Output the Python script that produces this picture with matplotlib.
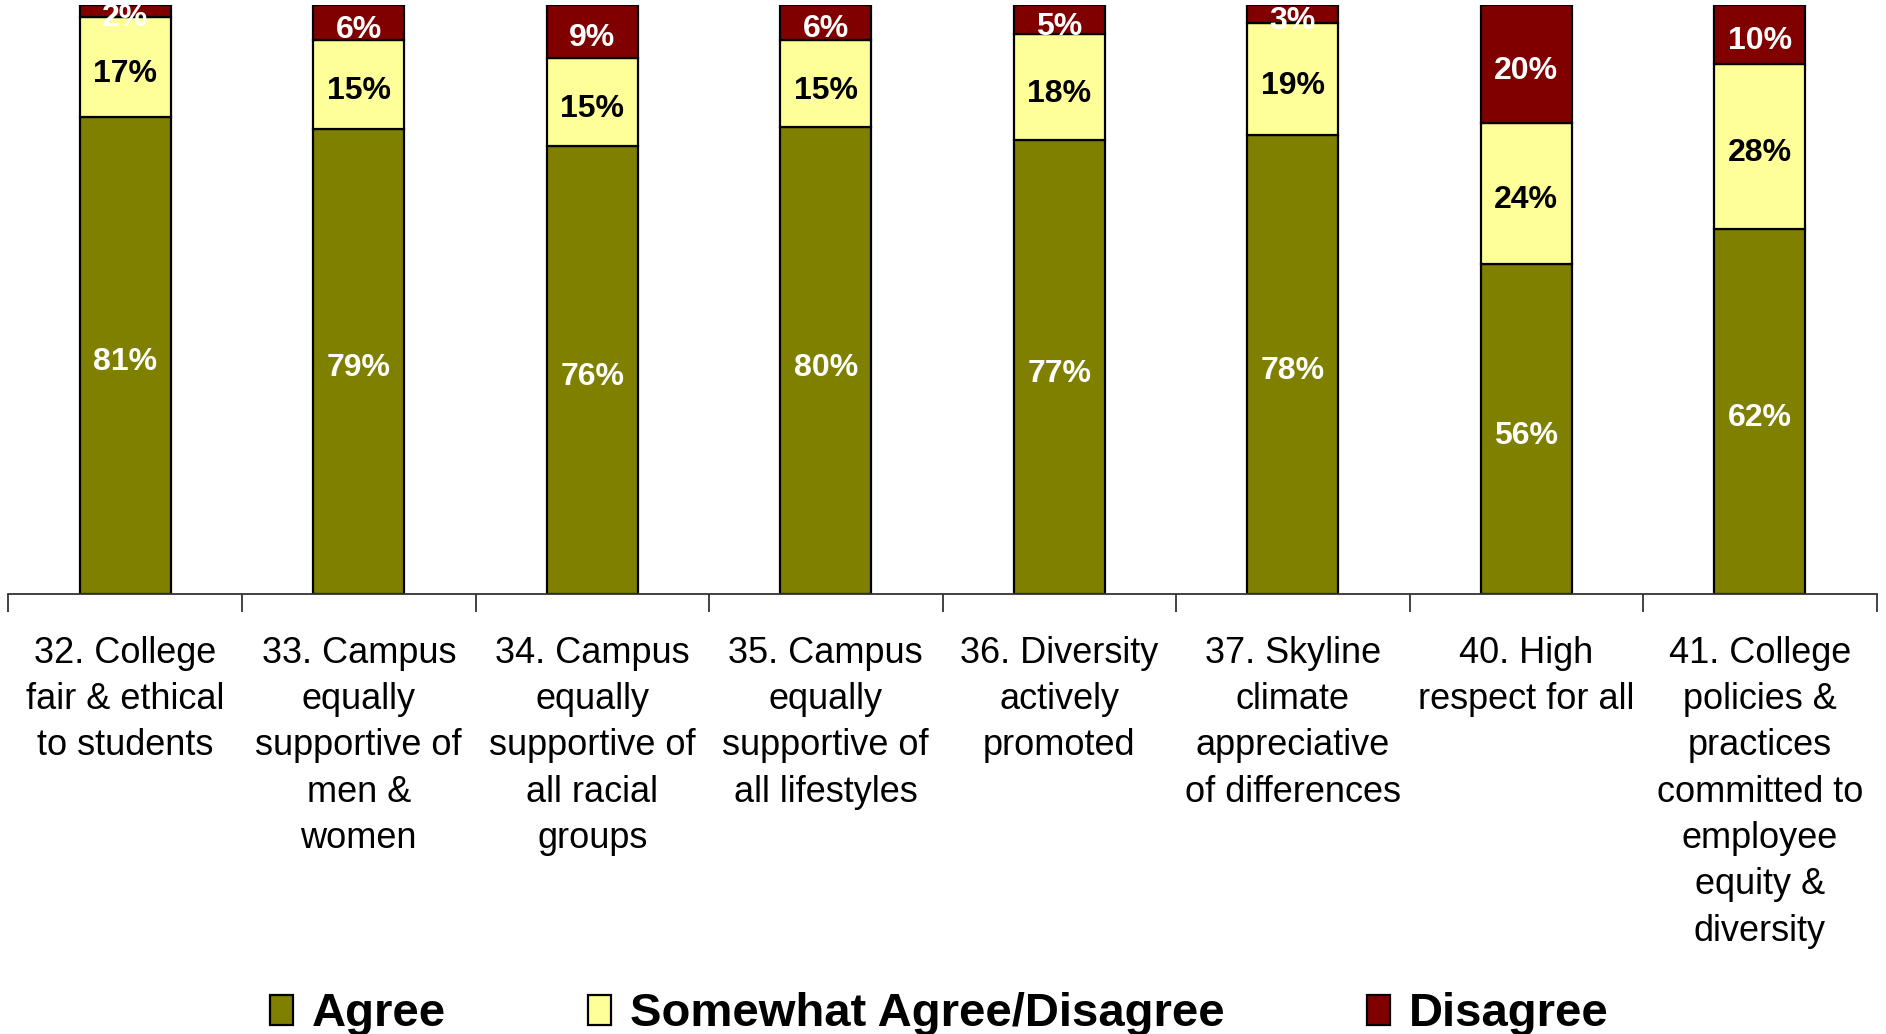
import matplotlib.pyplot as plt
import numpy as np

plt.rcParams['font.family'] = ['Liberation Sans', 'DejaVu Sans']

categories = [
    '32. College\nfair & ethical\nto students',
    '33. Campus\nequally\nsupportive of\nmen &\nwomen',
    '34. Campus\nequally\nsupportive of\nall racial\ngroups',
    '35. Campus\nequally\nsupportive of\nall lifestyles',
    '36. Diversity\nactively\npromoted',
    '37. Skyline\nclimate\nappreciative\nof differences',
    '40. High\nrespect for all',
    '41. College\npolicies &\npractices\ncommitted to\nemployee\nequity &\ndiversity',
]
agree = [81, 79, 76, 80, 77, 78, 56, 62]
somewhat = [17, 15, 15, 15, 18, 19, 24, 28]
disagree = [2, 6, 9, 6, 5, 3, 20, 10]

series_names = ['Agree', 'Somewhat Agree/Disagree', 'Disagree']
colors = ['#808000', '#FFFF99', '#800000']
label_colors = ['white', 'black', 'white']

# 100% stacked, like the original spreadsheet chart
data = np.array([agree, somewhat, disagree], dtype=float)
shares = data / data.sum(axis=0) * 100

fig = plt.figure(figsize=(18.86, 10.34), dpi=100)
ax = fig.add_axes([0.0045, 0.4255, 0.9905, 0.5697])

x = np.arange(len(categories))
bottom = np.zeros(len(categories))
handles = []
for vals, share, name, col, lcol in zip(data, shares, series_names, colors, label_colors):
    bars = ax.bar(x, share, bottom=bottom, width=0.39, color=col,
                  edgecolor='black', linewidth=1.6, label=name)
    handles.append(bars)
    for xi, b, s, v in zip(x, bottom, share, vals):
        ax.annotate(f'{int(v)}%', xy=(xi, b + s / 2), xytext=(0, -5),
                    textcoords='offset points', ha='center', va='center',
                    fontsize=23, fontweight='bold', color=lcol,
                    annotation_clip=False)
    bottom += share

ax.set_xlim(-0.5, len(categories) - 0.5)
ax.set_ylim(0, 100)

for side in ['left', 'right', 'top']:
    ax.spines[side].set_visible(False)
ax.spines['bottom'].set_color('#333333')
ax.spines['bottom'].set_linewidth(1.3)
ax.set_yticks([])

# boundary ticks without labels, category names at the centres
ax.set_xticks(np.arange(len(categories) + 1) - 0.5)
ax.set_xticklabels([])
ax.tick_params(axis='x', which='major', length=13, width=1.3, color='#333333')
ax.set_xticks(x, minor=True)
ax.set_xticklabels(categories, minor=True, fontsize=26, linespacing=1.42)
ax.tick_params(axis='x', which='minor', length=0, pad=30)

fig.legend(handles=handles, labels=series_names, loc='center',
           bbox_to_anchor=(0.498, 0.019), ncol=3, frameon=False,
           prop={'size': 34, 'weight': 'bold'}, handlelength=0.5,
           handleheight=0.6, handletextpad=0.4, columnspacing=3.0)
for h in fig.legends[0].legend_handles:
    h.set_edgecolor('black')
    h.set_linewidth(1.6)

fig.savefig('out.png', dpi=100)
